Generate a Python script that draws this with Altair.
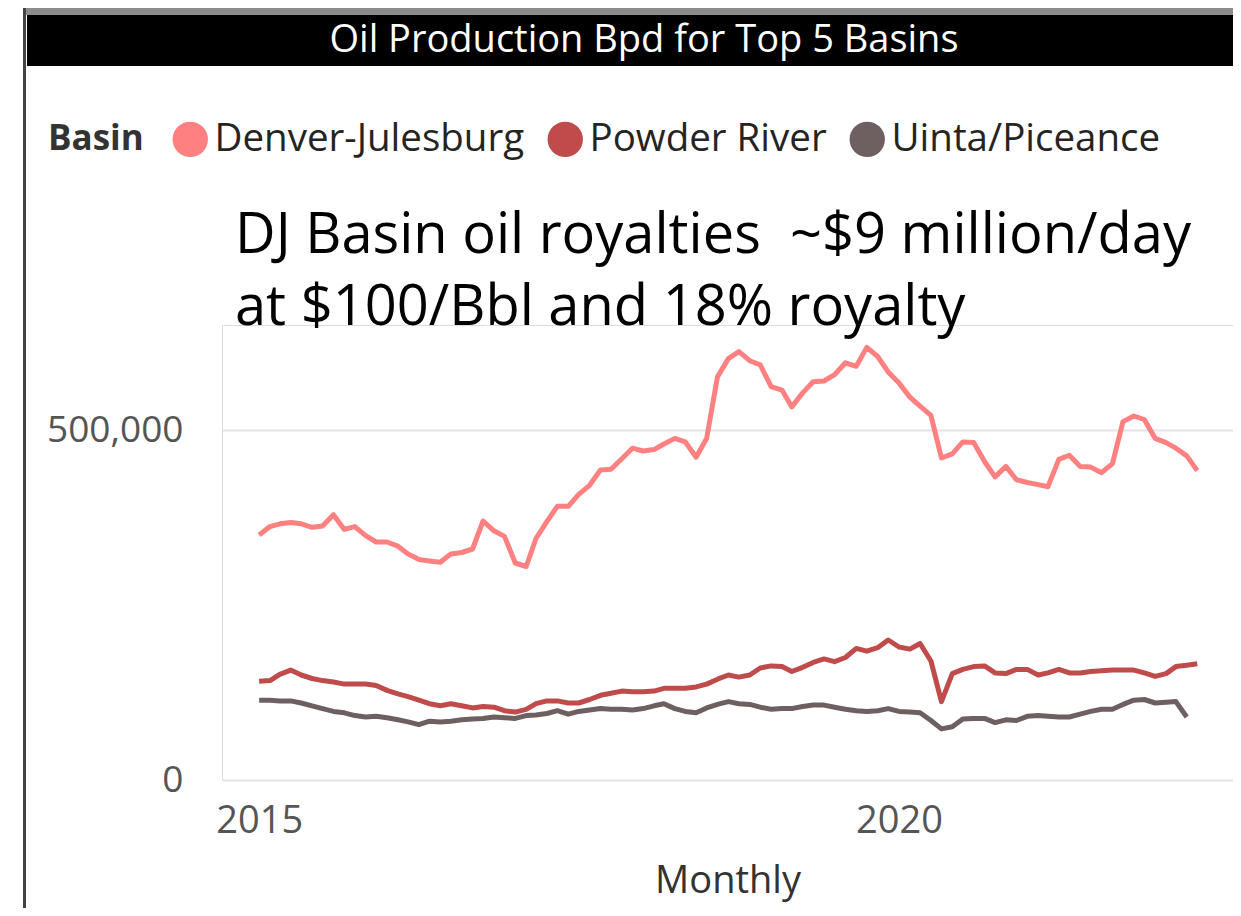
import altair as alt
import pandas as pd

# ---- data (barrels per day, monthly from Jan 2015) ----
basins = ["Denver-Julesburg", "Powder River", "Uinta/Piceance"]
colors = ["#FF8080", "#BF4B4A", "#6E6060"]

dj = [350, 362, 366, 368, 366, 361, 363, 379, 358, 362, 349, 340, 340, 334, 323, 315,
      313, 311, 323, 325, 330, 370, 356, 348, 310, 305, 345, 369, 391, 391, 408, 421,
      443, 444, 459, 474, 470, 472, 480, 488, 483, 461, 488, 576, 602, 612, 599, 593,
      562, 557, 533, 553, 569, 570, 579, 596, 591, 618, 605, 583, 567, 547, 534, 521,
      460, 466, 483, 482, 455, 433, 448, 429, 425, 422, 419, 458, 464, 448, 447, 439,
      452, 512, 520, 515, 488, 482, 474, 463, 442]
powder = [141, 142, 151, 157, 150, 145, 142, 140, 137, 137, 137, 135, 128, 123, 119, 114,
          109, 106, 109, 106, 103, 105, 104, 99, 97, 101, 109, 113, 113, 110, 110, 115,
          121, 124, 127, 126, 126, 127, 131, 131, 131, 133, 137, 144, 150, 147, 150, 160,
          163, 162, 155, 161, 168, 173, 169, 175, 188, 184, 189, 200, 190, 187, 195, 170,
          112, 152, 158, 162, 163, 153, 152, 158, 158, 150, 153, 158, 153, 153, 155, 156,
          157, 157, 157, 153, 148, 152, 162, 164, 166]
uinta = [114, 114, 113, 113, 110, 106, 102, 98, 96, 92, 90, 91, 89, 86, 83, 79,
         84, 83, 84, 86, 87, 88, 90, 89, 88, 92, 93, 95, 99, 94, 98, 100,
         102, 101, 101, 100, 102, 106, 109, 102, 98, 96, 103, 108, 112, 109, 108, 104,
         101, 102, 102, 105, 107, 107, 104, 101, 99, 98, 99, 102, 98, 97, 96, 85,
         73, 76, 87, 88, 88, 82, 86, 85, 91, 92, 91, 90, 90, 94, 98, 101,
         101, 108, 114, 115, 110, 111, 112, 90]

y_ticks = [0, 500000]
title_text = "Oil Production Bpd for Top 5 Basins"
note_line1a = "DJ Basin oil royalties"
note_line1b = "~$9 million/day"
note_line2 = "at $100/Bbl and 18% royalty"

rows = []
for name, series in zip(basins, [dj, powder, uinta]):
    dates = pd.date_range("2015-01-01", periods=len(series), freq="MS")
    for d, v in zip(dates, series):
        rows.append({"Monthly": d, "Basin": name, "Bpd": v * 1000})
df = pd.DataFrame(rows)
one = pd.DataFrame({"k": [0]})

W, H = 1011, 455
FONT = "Open Sans"

x_enc = alt.X(
    "Monthly:T",
    scale=alt.Scale(domain=[alt.DateTime(year=2014, month=9, date=17),
                            alt.DateTime(year=2022, month=8, date=11)]),
    axis=alt.Axis(values=[alt.DateTime(year=2015, month=1, date=1),
                          alt.DateTime(year=2020, month=1, date=1)],
                  format="%Y", grid=False, domain=False, ticks=False,
                  labelFontSize=38, labelFont=FONT, labelColor="#555555",
                  labelPadding=22, title="Monthly", titleFontSize=38,
                  titleFont=FONT, titleFontWeight="normal", titleColor="#333333",
                  titlePadding=22),
)
y_enc = alt.Y(
    "Bpd:Q",
    scale=alt.Scale(domain=[0, 650000], nice=False),
    axis=alt.Axis(values=y_ticks, labelExpr="format(datum.value, ',')", grid=True,
                  gridColor="#E4E4E4", gridWidth=2, domain=False, ticks=False,
                  labelFontSize=37, labelFont=FONT, labelColor="#555555",
                  labelPadding=39, title=None),
)

lines = alt.Chart(df).mark_line(strokeWidth=5, strokeJoin="round").encode(
    x=x_enc, y=y_enc,
    color=alt.Color("Basin:N", scale=alt.Scale(domain=basins, range=colors), legend=None),
)

legend_layer = alt.Chart(df).transform_filter("false").mark_circle(opacity=1).encode(
    x="Monthly:T", y="Bpd:Q",
    color=alt.Color("Basin:N", scale=alt.Scale(domain=basins, range=colors),
                    legend=alt.Legend(orient="none", legendX=-174, legendY=-205,
                                      direction="horizontal", titleOrient="left",
                                      title="Basin", titleFontSize=35, titleFont=FONT,
                                      titleFontWeight="bold", titleColor="#333333",
                                      titlePadding=27, titleBaseline="middle",
                                      labelFontSize=38.5, labelFont=FONT, labelLimit=2000,
                                      labelColor="#252423", symbolType="circle",
                                      symbolSize=1250, symbolStrokeWidth=0,
                                      labelOffset=5, columnPadding=21, padding=0)),
)

top_band = alt.Chart(one).mark_rect(color="#8C8C8C").encode(
    x=alt.value(-199), x2=alt.value(1011), y=alt.value(-317), y2=alt.value(-310))
title_bar = alt.Chart(one).mark_rect(color="#000000").encode(
    x=alt.value(-195), x2=alt.value(1011), y=alt.value(-310), y2=alt.value(-259))
left_border = alt.Chart(one).mark_rule(color="#444444", strokeWidth=3).encode(
    x=alt.value(-197.5), y=alt.value(-317), y2=alt.value(600))
title_mark = alt.Chart(one).mark_text(
    color="white", font=FONT, fontSize=38, align="center", baseline="middle"
).encode(x=alt.value(422), y=alt.value(-284), text=alt.value(title_text))

note_style = dict(color="black", font=FONT, fontSize=56, align="left", baseline="alphabetic")
note1a = alt.Chart(one).mark_text(**note_style).encode(
    x=alt.value(13), y=alt.value(-72), text=alt.value(note_line1a))
note1b = alt.Chart(one).mark_text(**note_style).encode(
    x=alt.value(568), y=alt.value(-72), text=alt.value(note_line1b))
note2 = alt.Chart(one).mark_text(**note_style).encode(
    x=alt.value(13), y=alt.value(0), text=alt.value(note_line2))

chart = alt.layer(
    top_band, title_bar, left_border, title_mark, note1a, note1b, note2, lines, legend_layer
).resolve_scale(color="independent").properties(
    width=W, height=H,
    autosize=alt.AutoSizeParams(type="none"),
    padding={"left": 214, "top": 317, "right": 0, "bottom": 128},
).configure_view(strokeWidth=0).configure(background="white")

chart.save("out.html", embed_options={"renderer": "svg", "actions": False})
